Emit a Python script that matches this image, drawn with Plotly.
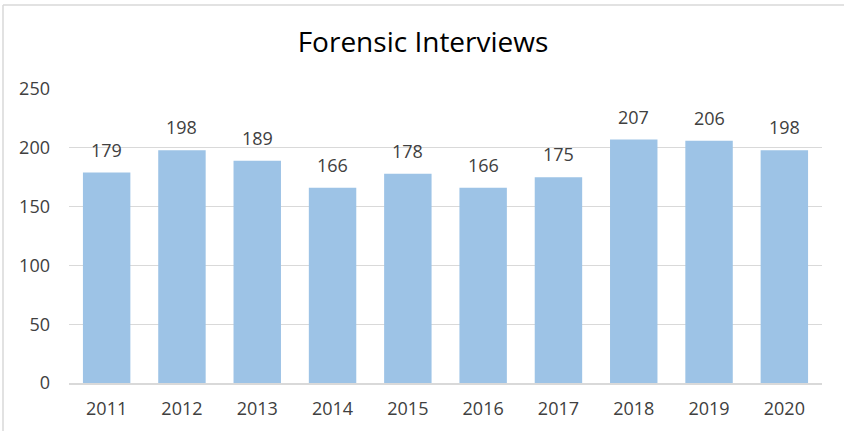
import plotly.graph_objects as go

years = ["2011", "2012", "2013", "2014", "2015", "2016", "2017", "2018", "2019", "2020"]
interviews = [179, 198, 189, 166, 178, 166, 175, 207, 206, 198]

W, H = 844, 431
L, R, T, B = 69, 22, 89, 48
pw = W - L - R
ph = H - T - B

fig = go.Figure()
fig.add_trace(go.Bar(x=years, y=interviews, marker=dict(color="#9DC3E6", line=dict(width=0)),
                     width=0.63, hoverinfo="x+y"))

for i, v in enumerate(interviews):
    fig.add_annotation(x=i, y=v, text=str(v), showarrow=False, yanchor="bottom",
                       yshift=9, font=dict(family="Open Sans", size=18, color="#404040"))

# outer chart border (left and top visible)
bx = (3 - L) / pw
by = 1 + (T - 5) / ph
fig.add_shape(type="line", xref="paper", yref="paper", x0=bx, x1=bx, y0=by, y1=-B / ph - 0.1,
              line=dict(color="#D9D9D9", width=1.5))
fig.add_shape(type="line", xref="paper", yref="paper", x0=bx, x1=1 + R / pw + 0.1, y0=by, y1=by,
              line=dict(color="#D9D9D9", width=1.5))

fig.update_layout(
    width=W, height=H,
    margin=dict(l=L, r=R, t=T, b=B, autoexpand=False),
    paper_bgcolor="white", plot_bgcolor="white",
    showlegend=False,
    title=dict(text="Forensic Interviews", xanchor="center", xref="paper",
               y=1 - 42 / H, yanchor="middle", yref="container",
               font=dict(family="Open Sans", size=28, color="#000000")),
    font=dict(family="Open Sans", size=18, color="#404040"),
    bargap=0.37,
)
fig.update_layout(title_x=0.5 + (423 - (L + pw / 2)) / pw)
fig.update_xaxes(type="category", range=[-0.5, len(years) - 0.5], showgrid=False, showline=True,
                 linecolor="#D9D9D9", linewidth=1.5,
                 ticks="", ticklabelstandoff=9, tickfont=dict(size=18, color="#404040"),
                 automargin=False)
fig.update_yaxes(range=[0, 250], dtick=50, showgrid=True, gridcolor="#D9D9D9", gridwidth=1,
                 zeroline=False, showline=False, ticks="", ticklabelstandoff=18,
                 tickfont=dict(size=18, color="#404040"), automargin=False)

fig.write_html("out.html", config={"displayModeBar": False},
               post_script="document.body.style.margin='0';")
